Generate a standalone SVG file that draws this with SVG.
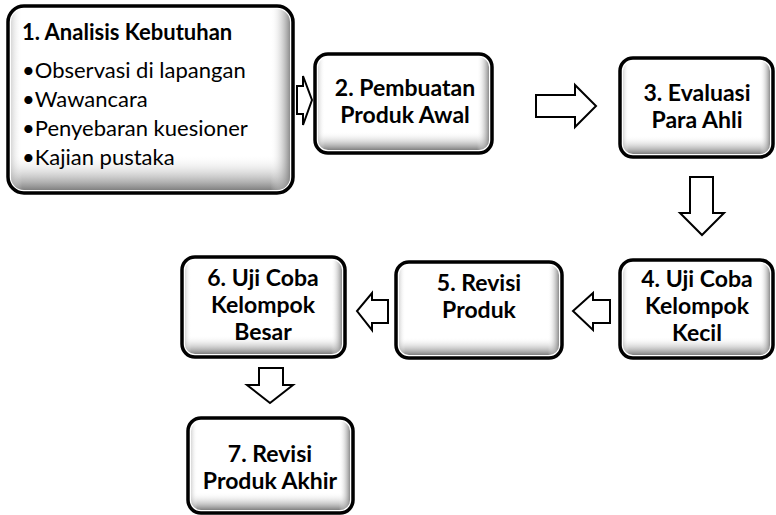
<svg xmlns="http://www.w3.org/2000/svg" width="776" height="515" viewBox="0 0 776 515">
<style>
.frame{fill:#fff;stroke:#000;stroke-width:3.5}
.sv{fill:url(#gv)}
.sh{fill:url(#gh)}
.t{font-family:Lato,"Open Sans",sans-serif;font-size:22px;fill:#000}
.b{font-weight:bold;text-anchor:middle;font-size:23px}
.arrow{fill:#fff;stroke:#000;stroke-width:2;stroke-linejoin:miter}
</style>
<defs>
<linearGradient id="gv" x1="0" y1="0" x2="0" y2="1">
<stop offset="0.8" stop-color="#fff" stop-opacity="0"/>
<stop offset="1" stop-color="#808080" stop-opacity="1"/>
</linearGradient>
<linearGradient id="gh" x1="0" y1="0" x2="1" y2="0">
<stop offset="0" stop-color="#b0b0b0" stop-opacity="0.5"/>
<stop offset="0.04" stop-color="#fff" stop-opacity="0"/>
<stop offset="0.93" stop-color="#fff" stop-opacity="0"/>
<stop offset="1" stop-color="#808080" stop-opacity="0.9"/>
</linearGradient>
</defs>
<g id="connectors">
<polygon class="arrow" points="297,86 303,86 303,76 312,100 303,125 303,114 297,114"/>
<polygon class="arrow" points="536,95 575,95 575,85 596,106 575,127 575,117 536,117"/>
<polygon class="arrow" points="690,177 713,177 713,213 724,213 702,235 680,213 690,213"/>
<polygon class="arrow" points="610,300 593,300 593,293 573,311 593,330 593,323 610,323"/>
<polygon class="arrow" points="388,300 372,300 372,293 357,311 372,330 372,323 388,323"/>
<polygon class="arrow" points="259,368 283,368 283,385 293,385 270,403 247,385 259,385"/>
</g>
<g id="node1">
<rect class="frame" x="8" y="6" width="285" height="187" rx="16"/>
<rect class="sv" x="11" y="9" width="279" height="181" rx="13"/>
<rect class="sh" x="11" y="9" width="279" height="181" rx="13"/>
<text class="t" x="22" y="40" font-weight="bold" font-size="22.5">1. Analisis Kebutuhan</text>
<text class="t" x="22" y="78">•Observasi di lapangan</text>
<text class="t" x="22" y="107">•Wawancara</text>
<text class="t" x="22" y="136">•Penyebaran kuesioner</text>
<text class="t" x="22" y="165">•Kajian pustaka</text>
</g>
<g id="node2">
<rect class="frame" x="315" y="54" width="177" height="99" rx="13"/>
<rect class="sv" x="318" y="57" width="171" height="93" rx="10"/>
<rect class="sh" x="318" y="57" width="171" height="93" rx="10"/>
<text class="t b" x="405" y="96">2. Pembuatan</text>
<text class="t b" x="405" y="123">Produk Awal</text>
</g>
<g id="node3">
<rect class="frame" x="620" y="58" width="153" height="99" rx="13"/>
<rect class="sv" x="623" y="61" width="147" height="93" rx="10"/>
<rect class="sh" x="623" y="61" width="147" height="93" rx="10"/>
<text class="t b" x="697" y="101">3. Evaluasi</text>
<text class="t b" x="697" y="128">Para Ahli</text>
</g>
<g id="node4">
<rect class="frame" x="620" y="260" width="153" height="98" rx="13"/>
<rect class="sv" x="623" y="263" width="147" height="92" rx="10"/>
<rect class="sh" x="623" y="263" width="147" height="92" rx="10"/>
<text class="t b" x="697" y="287">4. Uji Coba</text>
<text class="t b" x="697" y="314">Kelompok</text>
<text class="t b" x="697" y="341">Kecil</text>
</g>
<g id="node5">
<rect class="frame" x="396" y="262" width="166" height="96" rx="13"/>
<rect class="sv" x="399" y="265" width="160" height="90" rx="10"/>
<rect class="sh" x="399" y="265" width="160" height="90" rx="10"/>
<text class="t b" x="479" y="291">5. Revisi</text>
<text class="t b" x="479" y="318">Produk</text>
</g>
<g id="node6">
<rect class="frame" x="182" y="257" width="163" height="100" rx="13"/>
<rect class="sv" x="185" y="260" width="157" height="94" rx="10"/>
<rect class="sh" x="185" y="260" width="157" height="94" rx="10"/>
<text class="t b" x="263" y="286">6. Uji Coba</text>
<text class="t b" x="263" y="313">Kelompok</text>
<text class="t b" x="263" y="340">Besar</text>
</g>
<g id="node7">
<rect class="frame" x="188" y="418" width="165" height="95" rx="13"/>
<rect class="sv" x="191" y="421" width="159" height="89" rx="10"/>
<rect class="sh" x="191" y="421" width="159" height="89" rx="10"/>
<text class="t b" x="270" y="462">7. Revisi</text>
<text class="t b" x="270" y="489">Produk Akhir</text>
</g>
</svg>
